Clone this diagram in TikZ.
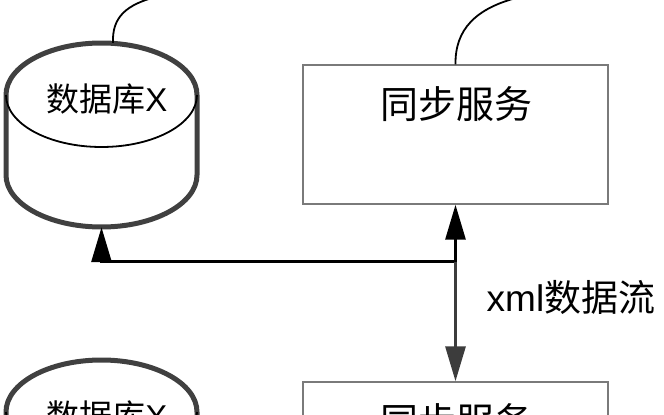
\documentclass[tikz,border=0pt]{standalone}
\usepackage{fontspec}
\setmainfont{Liberation Sans}
\newfontfamily\cjk{Noto Sans CJK SC}
\usetikzlibrary{arrows.meta, positioning, calc}

\definecolor{dbgray}{HTML}{404040}
\definecolor{boxgray}{HTML}{7A7A7A}
\definecolor{arrgray}{HTML}{3C3C3C}

\begin{document}
\begin{tikzpicture}[
x=1pt, y=1pt,
>={Triangle[length=35pt, width=20pt]},
dbbody/.style={minimum width=191pt, minimum height=184pt, inner sep=0pt},
dbline/.style={draw=dbgray, line width=5pt},
dbfront/.style={draw=black, line width=1.8pt},
svc/.style={draw=boxgray, line width=1.4pt, minimum width=305pt, minimum height=139pt, inner sep=0pt},
txt/.style={inner sep=0pt, font=\fontsize{#1}{#1}\selectfont},
flow/.style={->, line width=3pt},
leader/.style={line width=1.8pt}
]
\useasboundingbox (0,0) rectangle (664,-415);
\clip (0,0) rectangle (664,-415);

% Databases and sync services, second row shifted down
\foreach \dy/\n in {0/1, -317/2} {
  \node[dbbody] (db\n) at (101.5,-135+\dy) {};
  \draw[dbline] (6,-95+\dy) -- (6,-175+\dy)
    arc[start angle=180, end angle=360, x radius=95.5pt, y radius=52pt]
    -- (197,-95+\dy)
    arc[start angle=0, end angle=180, x radius=95.5pt, y radius=52pt] -- cycle;
  \draw[dbfront] (6,-95+\dy)
    arc[start angle=180, end angle=360, x radius=95.5pt, y radius=52pt];
  \node[txt=33] (dbl\n) at (107,-99+\dy) {{\cjk 数据库}X};

  \node[svc] (svc\n) at (455.5,-134.5+\dy) {};
  \node[txt=38] (svcl\n) at (456,-104+\dy) {\cjk 同步服务};
}

% Leader lines at the top
\coordinate (db1note) at (160,4);
\coordinate (svc1note) at (520,3);
\draw[leader] ($(db1.north)+(11.5,0)$) .. controls (112,-18) and (125,-4) .. (db1note);
\draw[leader] (svc1.north) .. controls (455,-30) and (475,-8) .. (svc1note);

% xml data flow
\coordinate (fork) at ($(svc1.south)+(0,-57)$);
\draw[flow] (fork) -- (svc1.south);
\draw[flow] (fork) -| (db1.south);
\draw[flow, draw=arrgray] (fork) -- (svc2.north);
\node[txt=37, anchor=west] (xmlflow) at ($(fork)+(31,-36)$) {xml{\cjk 数据流}};

\end{tikzpicture}
\end{document}
